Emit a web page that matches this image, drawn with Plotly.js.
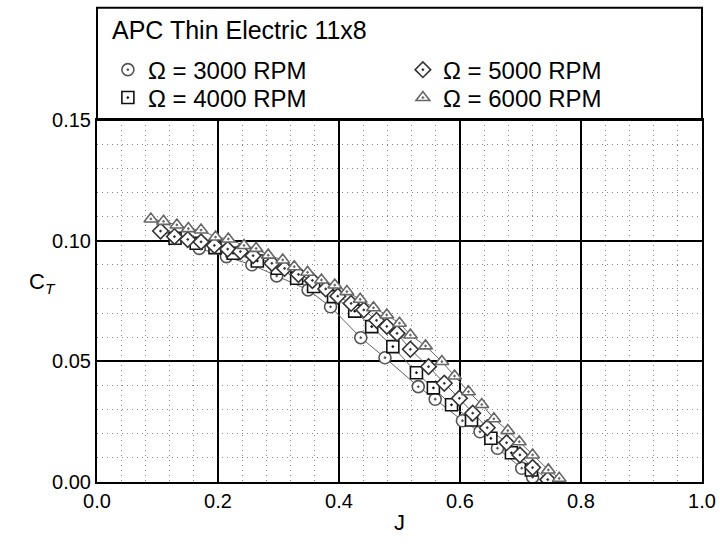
<!DOCTYPE html>
<html>
<head>
<meta charset="utf-8">
<script src="https://cdn.plot.ly/plotly-3.0.1.min.js"></script>
<style>html,body{margin:0;padding:0;background:#fff;}#chart{width:720px;height:550px;}</style>
</head>
<body>
<div id="chart"></div>
<script>
// Data (advance ratio J vs thrust coefficient C_T)
var legendTitle = "APC Thin Electric 11x8";
var seriesNames = ["Ω = 3000 RPM", "Ω = 4000 RPM", "Ω = 5000 RPM", "Ω = 6000 RPM"];

var J3000 = [0.169,0.214,0.256,0.297,0.349,0.386,0.436,0.476,0.531,0.559,0.604,0.633,0.662,0.702,0.720];
var CT3000 = [0.0968,0.0934,0.0900,0.0854,0.0796,0.0726,0.0598,0.0515,0.0395,0.0343,0.0254,0.0208,0.0140,0.0057,0.0020];

var J4000 = [0.129,0.164,0.195,0.225,0.265,0.298,0.330,0.358,0.391,0.426,0.454,0.489,0.528,0.556,0.586,0.619,0.651,0.685,0.718];
var CT4000 = [0.1010,0.0989,0.0971,0.0948,0.0916,0.0886,0.0844,0.0810,0.0768,0.0708,0.0644,0.0561,0.0453,0.0390,0.0320,0.0257,0.0181,0.0121,0.0050];

var J5000 = [0.105,0.128,0.150,0.172,0.194,0.216,0.237,0.258,0.289,0.310,0.333,0.356,0.378,0.398,0.420,0.441,0.462,0.479,0.496,0.518,0.548,0.574,0.599,0.621,0.645,0.677,0.699,0.720,0.745];
var CT5000 = [0.1040,0.1017,0.1005,0.0995,0.0980,0.0965,0.0955,0.0938,0.0906,0.0885,0.0860,0.0835,0.0800,0.0770,0.0740,0.0713,0.0670,0.0645,0.0616,0.0550,0.0478,0.0409,0.0347,0.0285,0.0225,0.0163,0.0112,0.0060,0.0010];

var J6000 = [0.089,0.110,0.132,0.151,0.172,0.196,0.217,0.243,0.263,0.283,0.307,0.326,0.348,0.371,0.393,0.413,0.435,0.457,0.479,0.500,0.518,0.543,0.570,0.591,0.614,0.636,0.656,0.679,0.698,0.720,0.746,0.764];
var CT6000 = [0.1090,0.1080,0.1065,0.1050,0.1044,0.1015,0.1007,0.0980,0.0968,0.0940,0.0920,0.0892,0.0869,0.0837,0.0816,0.0789,0.0757,0.0722,0.0692,0.0658,0.0609,0.0564,0.0499,0.0439,0.0374,0.0321,0.0262,0.0213,0.0167,0.0112,0.0050,0.0015];

var xTickVals = [0, 0.2, 0.4, 0.6, 0.8, 1.0];
var yTickVals = [0, 0.05, 0.10, 0.15];

var FONT = "Liberation Sans, Arial, sans-serif";

var seriesX = [J3000, J4000, J5000, J6000];
var seriesY = [CT3000, CT4000, CT5000, CT6000];
var symbols = ["circle-dot", "square-dot", "diamond-dot", "triangle-up-dot"];
var edgeColors = ["#555", "#111", "#333", "#666"];
var legendIds = ["legend", "legend2", "legend", "legend2"];
var ranks = [1, 3, 2, 4];

var traces = [];
// connecting lines (not in legend)
for (var i = 0; i < 4; i++) {
  traces.push({
    x: seriesX[i], y: seriesY[i], type: "scatter", mode: "lines",
    showlegend: false, hoverinfo: "skip",
    line: {color: "#666", width: 1}
  });
}
// markers (in legend)
for (var k = 0; k < 4; k++) {
  traces.push({
    x: seriesX[k], y: seriesY[k], name: seriesNames[k], type: "scatter", mode: "markers",
    legend: legendIds[k], legendrank: ranks[k],
    marker: {symbol: symbols[k], size: 12, color: "#fff", line: {color: edgeColors[k], width: 1.6}}
  });
}

var legendCommon = {
  orientation: "h", xanchor: "left", yanchor: "middle",
  xref: "paper", yref: "paper",
  bgcolor: "rgba(0,0,0,0)", borderwidth: 0,
  font: {family: FONT, size: 24, color: "#000"},
  entrywidth: 250, entrywidthmode: "pixels", tracegroupgap: 0
};

var layout = {
  width: 720, height: 550,
  margin: {l: 97, r: 18, t: 120, b: 68, pad: 0},
  paper_bgcolor: "#fff", plot_bgcolor: "#fff",
  font: {family: FONT, size: 20, color: "#000"},
  showlegend: true,
  legend: Object.assign({}, legendCommon, {x: 0.018, y: 1.138}),
  legend2: Object.assign({}, legendCommon, {x: 0.018, y: 1.061}),
  xaxis: {
    range: [0, 1], tickvals: xTickVals, tickformat: ".1f",
    showline: true, mirror: true, linecolor: "#000", linewidth: 2,
    showgrid: true, gridcolor: "#000", gridwidth: 2,
    zeroline: false, ticks: "", ticklen: 0,
    tickfont: {family: FONT, size: 20, color: "#000"},
    minor: {dtick: 0.04, showgrid: true, gridcolor: "#888", griddash: "1px,4px", gridwidth: 1},
    title: {text: "J", font: {family: FONT, size: 22, color: "#000"}, standoff: 4}
  },
  yaxis: {
    range: [0, 0.15], tickvals: yTickVals, tickformat: ".2f",
    showline: true, mirror: true, linecolor: "#000", linewidth: 2,
    showgrid: true, gridcolor: "#000", gridwidth: 2,
    zeroline: false, ticks: "", ticklen: 0,
    tickfont: {family: FONT, size: 20, color: "#000"},
    minor: {dtick: 0.01, showgrid: true, gridcolor: "#888", griddash: "1px,4px", gridwidth: 1}
  },
  shapes: [{
    type: "rect", xref: "paper", yref: "paper",
    x0: 0, x1: 1, y0: 1, y1: 1.31,
    line: {color: "#000", width: 2}, fillcolor: "rgba(0,0,0,0)"
  }],
  annotations: [
    {
      text: legendTitle, xref: "paper", yref: "paper",
      x: 0.021, y: 1.249, xanchor: "left", yanchor: "middle",
      showarrow: false, font: {family: FONT, size: 25, color: "#000"}
    },
    {
      text: "C<sub><i>T</i></sub>", xref: "paper", yref: "paper",
      x: -0.09, y: 0.55, xanchor: "center", yanchor: "middle",
      showarrow: false, font: {family: FONT, size: 22, color: "#000"}
    }
  ]
};

Plotly.newPlot("chart", traces, layout, {displayModeBar: false, staticPlot: true});
</script>
</body>
</html>
